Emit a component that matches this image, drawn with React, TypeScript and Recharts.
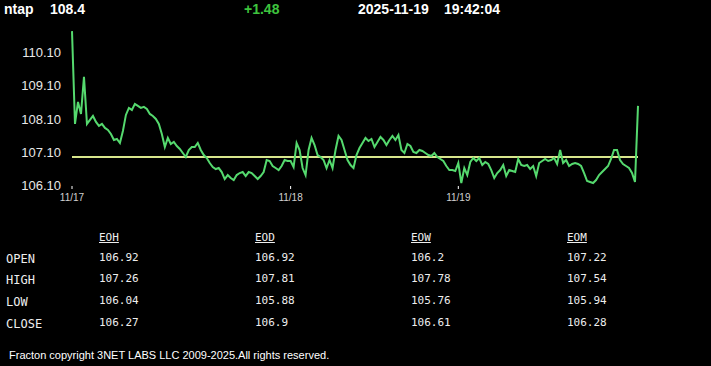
import React from 'react';
import { LineChart, Line, XAxis, YAxis, ReferenceLine } from 'recharts';

const SYMBOL = 'ntap';
const LAST = '108.4';
const CHANGE = '+1.48';
const DATE = '2025-11-19';
const TIME = '19:42:04';

// one price every few minutes, 11/17 -> 11/19
const prices = [
  110.69, 107.91, 108.57, 108.21, 109.32, 107.91, 108.03, 108.15, 107.97, 107.85,
  107.91, 107.79, 107.73, 107.61, 107.43, 107.46, 107.34, 107.70, 108.18, 108.39,
  108.33, 108.51, 108.45, 108.39, 108.42, 108.36, 108.21, 108.15, 108.06, 107.91,
  107.61, 107.22, 107.49, 107.31, 107.37, 107.25, 107.16, 107.04, 106.92, 107.13,
  107.22, 107.22, 107.34, 107.13, 106.98, 106.89, 106.74, 106.62, 106.56, 106.59,
  106.47, 106.26, 106.38, 106.29, 106.23, 106.38, 106.44, 106.47, 106.35, 106.47,
  106.44, 106.35, 106.26, 106.35, 106.47, 106.83, 106.80, 106.65, 106.59, 106.53,
  106.65, 106.83, 106.80, 106.80, 106.62, 107.34, 107.13, 106.59, 106.38, 107.13,
  107.49, 107.28, 106.98, 106.92, 106.83, 106.59, 106.83, 106.59, 107.13, 107.55,
  107.43, 107.13, 106.83, 106.68, 106.59, 106.98, 107.19, 107.34, 107.49, 107.40,
  107.46, 107.22, 107.37, 107.52, 107.43, 107.28, 107.43, 107.55, 107.43, 107.58,
  107.13, 107.04, 107.31, 107.25, 107.07, 107.04, 107.13, 107.10, 107.04, 106.98,
  106.95, 107.04, 106.92, 106.86, 106.80, 106.65, 106.53, 106.53, 106.50, 106.74,
  106.14, 106.59, 106.38, 106.77, 106.89, 106.80, 106.89, 106.68, 106.77, 106.71,
  106.53, 106.29, 106.44, 106.53, 106.68, 106.35, 106.53, 106.50, 106.47, 106.86,
  106.68, 106.65, 106.68, 106.56, 106.65, 106.35, 106.74, 106.80, 106.86, 106.80,
  106.83, 106.89, 106.71, 107.13, 106.74, 106.83, 106.65, 106.71, 106.74, 106.71,
  106.65, 106.44, 106.20, 106.17, 106.14, 106.23, 106.38, 106.47, 106.56, 106.65,
  106.86, 107.13, 107.13, 106.83, 106.71, 106.65, 106.59, 106.44, 106.17, 108.45,
];

const dayTicks = [0, 73, 129];
const dayLabels = ['11/17', '11/18', '11/19'];
const priceTicks = [106.1, 107.1, 108.1, 109.1, 110.1];
const OPEN_LEVEL = 106.92;

const tableCols = ['EOH', 'EOD', 'EOW', 'EOM'];
const tableRows = ['OPEN', 'HIGH', 'LOW', 'CLOSE'];
const eoh = ['106.92', '107.26', '106.04', '106.27'];
const eod = ['106.92', '107.81', '105.88', '106.9'];
const eow = ['106.2', '107.78', '105.76', '106.61'];
const eom = ['107.22', '107.54', '105.94', '106.28'];
const tableValues = [eoh, eod, eow, eom];

const data = prices.map((p, i) => ({ i, p }));

const colX = [99, 255, 411, 567];
const rowY = [259, 280, 302, 324];

const YTick = (props: any) => {
  const { x, y, payload } = props;
  return (
    <text x={x} y={y} dy={6} textAnchor="end" fill="#e8e8e8" fontSize={13} fontFamily="Liberation Sans, Arial, sans-serif">
      {payload.value.toFixed(2)}
    </text>
  );
};

export default function App() {
  const sans = 'Liberation Sans, Arial, sans-serif';
  const mono = 'DejaVu Sans Mono, monospace';
  const head: React.CSSProperties = { position: 'absolute', top: 1, fontFamily: sans, fontWeight: 'bold', fontSize: 14, lineHeight: '16px', color: '#fff' };
  return (
    <div style={{ position: 'fixed', left: 0, top: 0, width: 711, height: 366, background: '#000', overflow: 'hidden' }}>
      <div style={{ ...head, left: 4 }}>{SYMBOL}</div>
      <div style={{ ...head, left: 50 }}>{LAST}</div>
      <div style={{ ...head, left: 244, color: '#3ec43e' }}>{CHANGE}</div>
      <div style={{ ...head, left: 358 }}>{DATE}</div>
      <div style={{ ...head, left: 444 }}>{TIME}</div>

      <div style={{ position: 'absolute', left: 0, top: 0 }}>
        <LineChart width={711} height={215} data={data} margin={{ top: 29, right: 73, bottom: 0, left: 0 }}>
          <XAxis
            dataKey="i"
            type="number"
            domain={[0, prices.length - 1]}
            ticks={dayTicks}
            tickFormatter={(v: number) => dayLabels[dayTicks.indexOf(v)]}
            axisLine={false}
            tickLine={{ stroke: '#fff' }}
            tickSize={3}
            tickMargin={5}
            height={29}
            tick={{ fill: '#d0d0d0', fontSize: 10, fontFamily: sans }}
            interval={0}
          />
          <YAxis
            type="number"
            domain={[106.052, 110.753]}
            ticks={priceTicks}
            axisLine={false}
            tickLine={false}
            tickSize={0}
            tickMargin={11}
            width={72}
            tick={<YTick />}
            interval={0}
          />
          <ReferenceLine y={OPEN_LEVEL} stroke="#d8e68c" strokeWidth={2} />
          <Line type="linear" dataKey="p" stroke="#55d96e" strokeWidth={2} dot={false} isAnimationActive={false} />
        </LineChart>
      </div>

      {tableCols.map((c, ci) => (
        <div key={c} style={{ position: 'absolute', left: colX[ci], top: 231, fontFamily: mono, fontSize: 11, lineHeight: '14px', color: '#eee', textDecoration: 'underline' }}>
          {c}
        </div>
      ))}
      {tableRows.map((r, ri) => (
        <div key={r} style={{ position: 'absolute', left: 6, top: rowY[ri] - 7, fontFamily: mono, fontSize: 12, lineHeight: '14px', color: '#eee' }}>
          {r}
        </div>
      ))}
      {tableValues.map((col, ci) =>
        col.map((v, ri) => (
          <div key={ci + '-' + ri} style={{ position: 'absolute', left: colX[ci], top: rowY[ri] - 8, fontFamily: mono, fontSize: 11, lineHeight: '14px', color: '#eee' }}>
            {v}
          </div>
        ))
      )}

      <div style={{ position: 'absolute', left: 9, top: 348, fontFamily: sans, fontSize: 11, lineHeight: '14px', color: '#fff' }}>
        Fracton copyright 3NET LABS LLC 2009-2025.All rights reserved.
      </div>
    </div>
  );
}
